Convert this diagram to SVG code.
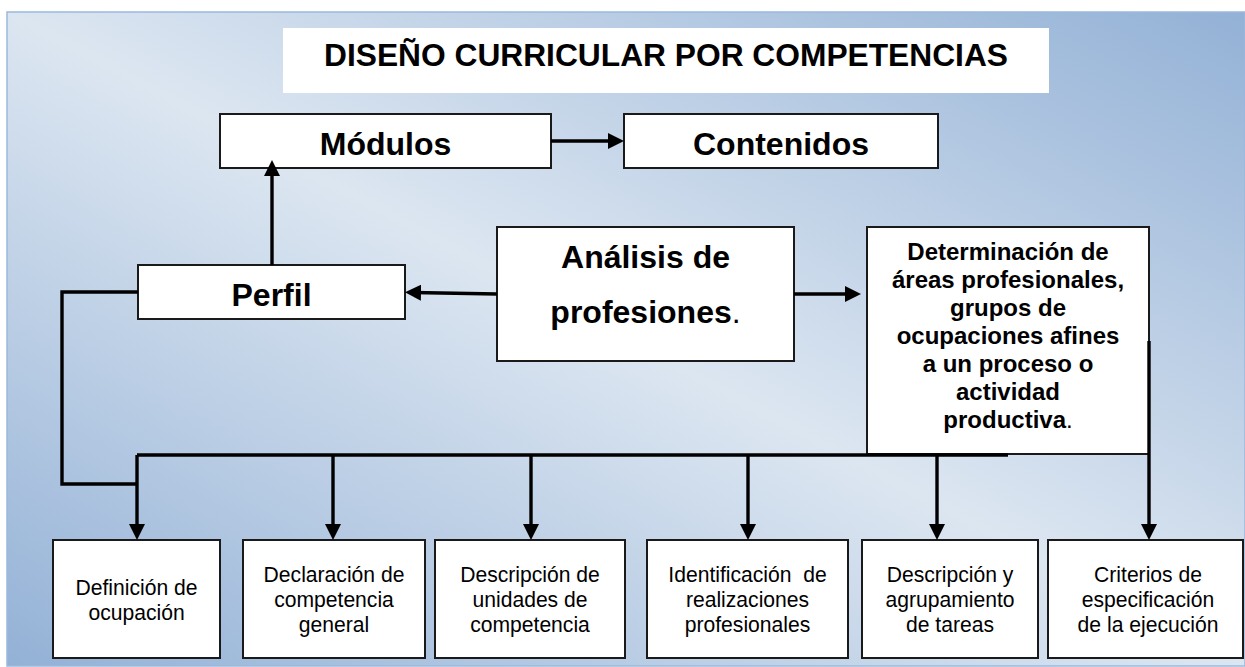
<svg xmlns="http://www.w3.org/2000/svg" width="1245" height="667" viewBox="0 0 1245 667">
<defs>
<linearGradient id="bg" x1="0" y1="1" x2="1" y2="0">
<stop offset="0" stop-color="#93b1d6"/>
<stop offset="0.5" stop-color="#dce6f1"/>
<stop offset="1" stop-color="#93b1d6"/>
</linearGradient>
<marker id="ah" markerUnits="userSpaceOnUse" markerWidth="16" markerHeight="16" viewBox="0 0 16 16" refX="8" refY="8" orient="auto">
<path d="M0,0 L16,8 L0,16 Z" fill="#000"/>
</marker>
<style>
.box{fill:#fff;stroke:#1a1a1a;stroke-width:2}
.b{font-family:"Liberation Sans",Arial,sans-serif;font-weight:bold;fill:#000;text-anchor:middle}
.r{font-family:"Liberation Sans",Arial,sans-serif;font-size:22px;fill:#000;text-anchor:middle}
.c{fill:none;stroke:#000;stroke-width:3.4;stroke-linejoin:miter}
.a{marker-end:url(#ah)}
</style>
</defs>
<rect x="7" y="12" width="1238" height="654" fill="url(#bg)" stroke="#9bb9dc" stroke-width="1.5"/>

<g id="title">
<rect x="283" y="28" width="766" height="65" fill="#fff"/>
<text class="b" x="666" y="66" font-size="31" textLength="684" lengthAdjust="spacingAndGlyphs">DISEÑO CURRICULAR POR COMPETENCIAS</text>
</g>

<g id="modulos">
<rect class="box" x="220" y="114" width="331" height="54"/>
<text class="b" x="385.5" y="155" font-size="32">Módulos</text>
</g>

<g id="contenidos">
<rect class="box" x="624" y="114" width="314" height="54"/>
<text class="b" x="781" y="155" font-size="32">Contenidos</text>
</g>

<g id="perfil">
<rect class="box" x="138" y="265" width="267" height="54"/>
<text class="b" x="271.5" y="306" font-size="32">Perfil</text>
</g>

<g id="analisis">
<rect class="box" x="497" y="227" width="297" height="134"/>
<text class="b" x="645.5" y="268" font-size="32">Análisis de</text>
<text class="b" x="645.5" y="323" font-size="32">profesiones<tspan font-weight="normal">.</tspan></text>
</g>

<g id="determinacion">
<rect class="box" x="867" y="227" width="282" height="227"/>
<text class="b" font-size="24" x="1008" y="260">Determinación de</text>
<text class="b" font-size="24" x="1008" y="288">áreas profesionales,</text>
<text class="b" font-size="24" x="1008" y="316">grupos de</text>
<text class="b" font-size="24" x="1008" y="344">ocupaciones afines</text>
<text class="b" font-size="24" x="1008" y="372">a un proceso o</text>
<text class="b" font-size="24" x="1008" y="400">actividad</text>
<text class="b" font-size="24" x="1008" y="428">productiva<tspan font-weight="normal">.</tspan></text>
</g>

<g id="definicion">
<rect class="box" x="53" y="540" width="167" height="118"/>
<g transform="translate(136.5 0) scale(0.96 1)">
<text class="r" x="0" y="595">Definición de</text>
<text class="r" x="0" y="620">ocupación</text>
</g>
</g>

<g id="declaracion">
<rect class="box" x="243" y="540" width="182" height="118"/>
<g transform="translate(334 0) scale(0.96 1)">
<text class="r" x="0" y="582">Declaración de</text>
<text class="r" x="0" y="607">competencia</text>
<text class="r" x="0" y="632">general</text>
</g>
</g>

<g id="descripcion-unidades">
<rect class="box" x="435" y="540" width="190" height="118"/>
<g transform="translate(530 0) scale(0.96 1)">
<text class="r" x="0" y="582">Descripción de</text>
<text class="r" x="0" y="607">unidades de</text>
<text class="r" x="0" y="632">competencia</text>
</g>
</g>

<g id="identificacion">
<rect class="box" x="647" y="540" width="201" height="118"/>
<g transform="translate(747.5 0) scale(0.96 1)">
<text class="r" x="0" y="582" xml:space="preserve">Identificación  de</text>
<text class="r" x="0" y="607">realizaciones</text>
<text class="r" x="0" y="632">profesionales</text>
</g>
</g>

<g id="descripcion-tareas">
<rect class="box" x="862" y="540" width="176" height="118"/>
<g transform="translate(950 0) scale(0.96 1)">
<text class="r" x="0" y="582">Descripción y</text>
<text class="r" x="0" y="607">agrupamiento</text>
<text class="r" x="0" y="632">de tareas</text>
</g>
</g>

<g id="criterios">
<rect class="box" x="1048" y="540" width="195" height="118"/>
<g transform="translate(1148 0) scale(0.96 1)">
<text class="r" x="0" y="582">Criterios de</text>
<text class="r" x="0" y="607">especificación</text>
<text class="r" x="0" y="632">de la ejecución</text>
</g>
</g>

<g id="connectors">
<line class="c a" x1="551" y1="141" x2="616" y2="141"/>
<line class="c a" x1="272" y1="265" x2="272" y2="168"/>
<line class="c a" x1="497" y1="294" x2="413" y2="292.5"/>
<line class="c a" x1="794" y1="294" x2="853" y2="294"/>
<path class="c" d="M138,292 H62 V484 H137"/>
<path class="c" d="M137,455 H1008"/>
<line class="c a" x1="137" y1="455" x2="137" y2="532"/>
<line class="c a" x1="333" y1="455" x2="333" y2="532"/>
<line class="c a" x1="531" y1="455" x2="531" y2="532"/>
<line class="c a" x1="748" y1="455" x2="748" y2="532"/>
<line class="c a" x1="937" y1="455" x2="937" y2="532"/>
<line class="c a" x1="1149" y1="341" x2="1149" y2="532"/>
</g>
</svg>
